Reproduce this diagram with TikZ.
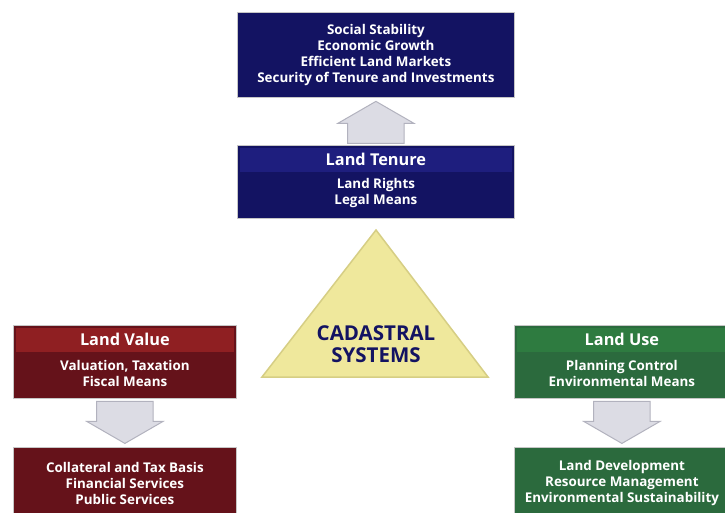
\documentclass[tikz,border=0pt]{standalone}
\usepackage{fontspec}
\setmainfont{Open Sans}
\usetikzlibrary{shapes.arrows,calc}
\definecolor{navybody}{HTML}{131362}
\definecolor{navyhead}{HTML}{1E1E7E}
\definecolor{redbody}{HTML}{65121A}
\definecolor{redhead}{HTML}{8F1F22}
\definecolor{greenbody}{HTML}{2B6A3D}
\definecolor{greenhead}{HTML}{2E7B40}
\definecolor{arrowfill}{HTML}{DCDCE4}
\definecolor{arrowline}{HTML}{B2B2BE}
\definecolor{trifill}{HTML}{EFE89C}
\definecolor{triline}{HTML}{D6CE84}
\tikzset{
    panel/.style={draw=gray!45, line width=0.8pt, anchor=north west, inner sep=0pt},
    bodytext/.style={text=white, align=center, font=\bfseries\fontsize{13.4}{16}\selectfont},
    headtext/.style={text=white, font=\bfseries\fontsize{16.3}{16}\selectfont},
    blockarrow/.style={single arrow, fill=arrowfill, draw=arrowline, line width=1pt,
        minimum height=42, minimum width=76, inner xsep=0pt, inner ysep=20pt,
        single arrow tip angle=120, single arrow head indent=0pt, anchor=tip}
}
\newcommand{\Header}[3]{
    \fill[#1] ($(#2.north west)+(3,3)$) rectangle ($(#2.north east)+(-3,27)$);
    \node[headtext] at ($(#2.north)+(0,14)$) {#3};
}
\begin{document}
\begin{tikzpicture}[x=1pt,y=-1pt]
    \useasboundingbox[fill=white] (0,0) rectangle (725,513);

    % goals and tenure
    \node[panel, fill=navybody, minimum width=277, minimum height=85] (goals) at (237,12) {};
    \node[bodytext] at (goals.center) {Social Stability\\Economic Growth\\Efficient Land Markets\\Security of Tenure and Investments};
    \node[panel, fill=navybody, minimum width=277, minimum height=73] (tenure) at (237,145) {};
    \Header{navyhead}{tenure}{Land Tenure}
    \node[bodytext] at ($(tenure.north)+(0,48)$) {Land Rights\\Legal Means};
    \node[blockarrow, rotate=90] (up) at ($(goals.south)+(0,3)$) {};

    % triangle
    \draw[fill=trifill, draw=triline, line width=1.5pt] (376,230) -- (488,377) -- (262,377) -- cycle;
    \node[text=navybody, align=center, font=\bfseries\fontsize{20.5}{22}\selectfont] (cad) at (376,344) {CADASTRAL\\SYSTEMS};

    % land value
    \node[panel, fill=redbody, minimum width=223, minimum height=73] (value) at (13,325) {};
    \Header{redhead}{value}{Land Value}
    \node[bodytext] at ($(value.north)+(0,48)$) {Valuation, Taxation\\Fiscal Means};
    \node[panel, fill=redbody, minimum width=223, minimum height=70] (finance) at (13,447) {};
    \node[bodytext] at ($(finance.north)+(0,36)$) {Collateral and Tax Basis\\Financial Services\\Public Services};
    \node[blockarrow, rotate=-90] (downl) at ($(finance.north)-(0,3)$) {};

    % land use
    \node[panel, fill=greenbody, minimum width=215, minimum height=73] (use) at (514,325) {};
    \Header{greenhead}{use}{Land Use}
    \node[bodytext] at ($(use.north)+(0,48)$) {Planning Control\\Environmental Means};
    \node[panel, fill=greenbody, minimum width=215, minimum height=70] (develop) at (514,447) {};
    \node[bodytext] at ($(develop.north)+(0,36)$) {Land Development\\Resource Management\\Environmental Sustainability};
    \node[blockarrow, rotate=-90] (downr) at ($(develop.north)-(0,3)$) {};
\end{tikzpicture}
\end{document}
